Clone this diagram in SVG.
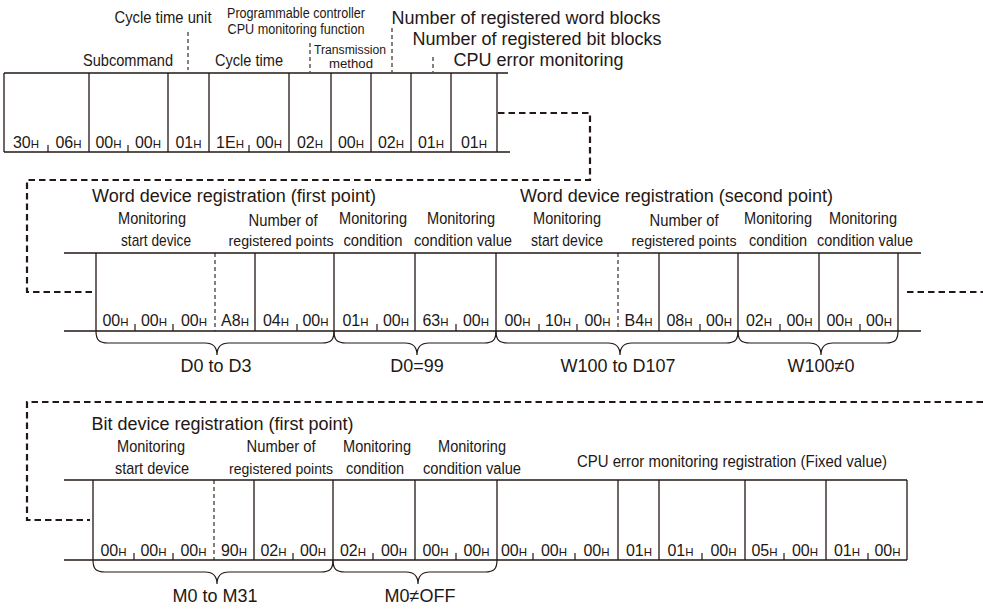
<svg xmlns="http://www.w3.org/2000/svg" width="983" height="610" viewBox="0 0 983 610">
<style>
.ln{stroke:#231815;stroke-width:1.3;fill:none}
.tk{stroke:#231815;stroke-width:1.2;fill:none}
.ds{stroke:#231815;stroke-width:1.1;stroke-dasharray:4 3;fill:none}
.conn{stroke:#231815;stroke-width:2.2;stroke-dasharray:6.5 4;fill:none}
.br{stroke:#231815;stroke-width:1.2;fill:none}
text{font-family:'Liberation Sans',Arial,sans-serif;fill:#231815;text-anchor:middle}
.v{font-size:16px}
.h{font-size:11.5px}
.lb{font-size:17px}
.lm{font-size:16px}
.rp{font-size:15.5px}
.ls{font-size:14px}
.lt{font-size:12.5px}
.ll{font-size:18px}
</style>
<rect width="983" height="610" fill="#fff"/>

<!-- Row 1 frame -->
<g id="frame1">
<path class="ln" d="M4 73H508M4 152H510M4 73V152M89 73V152M168 73V152M209 73V152M289 73V152M331 73V152M371 73V152M411 73V152M451 73V152M497 73V152"/>
<path class="tk" d="M48 145V152M128 145V152M249 145V152"/>
<path class="ds" d="M188 32V70M310 43V72M392 28V72M433 57V72"/>
</g>
<g id="r1-subcommand"><text class="v" x="26" y="148">30<tspan class="h">H</tspan></text><text class="v" x="68.5" y="148">06<tspan class="h">H</tspan></text></g>
<g id="r1-zero"><text class="v" x="108.5" y="148">00<tspan class="h">H</tspan></text><text class="v" x="148" y="148">00<tspan class="h">H</tspan></text></g>
<g id="r1-unit"><text class="v" x="188.5" y="148">01<tspan class="h">H</tspan></text></g>
<g id="r1-cycle"><text class="v" x="230" y="148">1E<tspan class="h">H</tspan></text><text class="v" x="269" y="148">00<tspan class="h">H</tspan></text></g>
<g id="r1-plc"><text class="v" x="310" y="148">02<tspan class="h">H</tspan></text></g>
<g id="r1-trans"><text class="v" x="351" y="148">00<tspan class="h">H</tspan></text></g>
<g id="r1-word"><text class="v" x="391" y="148">02<tspan class="h">H</tspan></text></g>
<g id="r1-bit"><text class="v" x="431" y="148">01<tspan class="h">H</tspan></text></g>
<g id="r1-cpu"><text class="v" x="474" y="148">01<tspan class="h">H</tspan></text></g>

<g id="labels1">
<text class="lb" x="163" y="23" textLength="97" lengthAdjust="spacingAndGlyphs">Cycle time unit</text>
<text class="ls" x="296" y="18" textLength="138" lengthAdjust="spacingAndGlyphs">Programmable controller</text>
<text class="ls" x="296" y="34" textLength="137" lengthAdjust="spacingAndGlyphs">CPU monitoring function</text>
<text class="lt" x="350" y="54" textLength="72" lengthAdjust="spacingAndGlyphs">Transmission</text>
<text class="lt" x="351" y="68" textLength="44" lengthAdjust="spacingAndGlyphs">method</text>
<text class="lb" x="128" y="66" textLength="90" lengthAdjust="spacingAndGlyphs">Subcommand</text>
<text class="lb" x="249" y="66" textLength="68" lengthAdjust="spacingAndGlyphs">Cycle time</text>
<text class="ll" x="526" y="24">Number of registered word blocks</text>
<text class="ll" x="537" y="45">Number of registered bit blocks</text>
<text class="ll" x="538.5" y="66">CPU error monitoring</text>
</g>

<!-- Row 2 frame -->
<g id="frame2">
<path class="ln" d="M64 253H921M64 331H921M96 253V331M255 253V331M334 253V331M415 253V331M496 253V331M659 253V331M738 253V331M819 253V331M898 253V331"/>
<path class="ds" d="M215 253V331M618 253V331"/>
<path class="tk" d="M135 324V331M173 324V331M297 324V331M377 324V331M456 324V331M539 324V331M577 324V331M700 324V331M780 324V331M860 324V331"/>
</g>
<g id="r2-w1-start"><text class="v" x="115.5" y="326">00<tspan class="h">H</tspan></text><text class="v" x="154" y="326">00<tspan class="h">H</tspan></text><text class="v" x="194" y="326">00<tspan class="h">H</tspan></text><text class="v" x="235" y="326">A8<tspan class="h">H</tspan></text></g>
<g id="r2-w1-points"><text class="v" x="276" y="326">04<tspan class="h">H</tspan></text><text class="v" x="315.5" y="326">00<tspan class="h">H</tspan></text></g>
<g id="r2-w1-cond"><text class="v" x="355.5" y="326">01<tspan class="h">H</tspan></text><text class="v" x="396" y="326">00<tspan class="h">H</tspan></text></g>
<g id="r2-w1-val"><text class="v" x="435.5" y="326">63<tspan class="h">H</tspan></text><text class="v" x="476" y="326">00<tspan class="h">H</tspan></text></g>
<g id="r2-w2-start"><text class="v" x="517.5" y="326">00<tspan class="h">H</tspan></text><text class="v" x="558" y="326">10<tspan class="h">H</tspan></text><text class="v" x="597.5" y="326">00<tspan class="h">H</tspan></text><text class="v" x="638.5" y="326">B4<tspan class="h">H</tspan></text></g>
<g id="r2-w2-points"><text class="v" x="679.5" y="326">08<tspan class="h">H</tspan></text><text class="v" x="719" y="326">00<tspan class="h">H</tspan></text></g>
<g id="r2-w2-cond"><text class="v" x="759" y="326">02<tspan class="h">H</tspan></text><text class="v" x="799.5" y="326">00<tspan class="h">H</tspan></text></g>
<g id="r2-w2-val"><text class="v" x="839.5" y="326">00<tspan class="h">H</tspan></text><text class="v" x="879" y="326">00<tspan class="h">H</tspan></text></g>

<g id="labels2">
<text class="ll" x="234" y="202">Word device registration (first point)</text>
<text class="ll" x="676.5" y="202">Word device registration (second point)</text>
<text class="lb" x="152" y="224" textLength="68" lengthAdjust="spacingAndGlyphs">Monitoring</text>
<text class="lb" x="156" y="246" textLength="70" lengthAdjust="spacingAndGlyphs">start device</text>
<text class="lb" x="283" y="226" textLength="69" lengthAdjust="spacingAndGlyphs">Number of</text>
<text class="rp" x="281" y="246" textLength="105" lengthAdjust="spacingAndGlyphs">registered points</text>
<text class="lb" x="373" y="224" textLength="68" lengthAdjust="spacingAndGlyphs">Monitoring</text>
<text class="lm" x="373" y="246" textLength="59" lengthAdjust="spacingAndGlyphs">condition</text>
<text class="lb" x="461" y="224" textLength="68" lengthAdjust="spacingAndGlyphs">Monitoring</text>
<text class="lm" x="463" y="246" textLength="98" lengthAdjust="spacingAndGlyphs">condition value</text>
<text class="lb" x="567" y="224" textLength="68" lengthAdjust="spacingAndGlyphs">Monitoring</text>
<text class="lb" x="567" y="246" textLength="72" lengthAdjust="spacingAndGlyphs">start device</text>
<text class="lb" x="684" y="226" textLength="69" lengthAdjust="spacingAndGlyphs">Number of</text>
<text class="rp" x="684" y="246" textLength="105" lengthAdjust="spacingAndGlyphs">registered points</text>
<text class="lb" x="778" y="224" textLength="68" lengthAdjust="spacingAndGlyphs">Monitoring</text>
<text class="lm" x="778" y="246" textLength="58" lengthAdjust="spacingAndGlyphs">condition</text>
<text class="lb" x="863" y="224" textLength="68" lengthAdjust="spacingAndGlyphs">Monitoring</text>
<text class="lm" x="865" y="246" textLength="96" lengthAdjust="spacingAndGlyphs">condition value</text>
</g>

<g id="braces2">
<path class="br" d="M96 331C96 340 99 343 108 343H205C213 343 217 347 217 355C217 347 221 343 229 343H322C331 343 334 340 334 331"/>
<path class="br" d="M334 331C334 340 337 343 346 343H405C413 343 417 347 417 355C417 347 421 343 429 343H484C493 343 496 340 496 331"/>
<path class="br" d="M496 331C496 340 499 343 508 343H608C616 343 620 347 620 355C620 347 624 343 632 343H726C735 343 738 340 738 331"/>
<path class="br" d="M738 331C738 340 741 343 750 343H809C817 343 821 347 821 355C821 347 825 343 833 343H886C895 343 898 340 898 331"/>
<text class="ll" x="216" y="372">D0 to D3</text>
<text class="ll" x="417" y="372">D0=99</text>
<text class="ll" x="618" y="372">W100 to D107</text>
<text class="ll" x="821" y="372">W100≠0</text>
</g>

<!-- Row 3 frame -->
<g id="frame3">
<path class="ln" d="M64 480H907M64 560H907M93 480V560M254 480V560M333 480V560M415 480V560M497 480V560M618 480V560M659 480V560M745 480V560M826 480V560M907 480V560"/>
<path class="ds" d="M214 480V560"/>
<path class="tk" d="M134 553V560M173 553V560M293 553V560M373 553V560M456 553V560M533 553V560M575 553V560M702 553V560M784 553V560M868 553V560"/>
</g>
<g id="r3-b1-start"><text class="v" x="113.5" y="556">00<tspan class="h">H</tspan></text><text class="v" x="153.5" y="556">00<tspan class="h">H</tspan></text><text class="v" x="193.5" y="556">00<tspan class="h">H</tspan></text><text class="v" x="234" y="556">90<tspan class="h">H</tspan></text></g>
<g id="r3-b1-points"><text class="v" x="273.5" y="556">02<tspan class="h">H</tspan></text><text class="v" x="313" y="556">00<tspan class="h">H</tspan></text></g>
<g id="r3-b1-cond"><text class="v" x="353" y="556">02<tspan class="h">H</tspan></text><text class="v" x="394" y="556">00<tspan class="h">H</tspan></text></g>
<g id="r3-b1-val"><text class="v" x="435.5" y="556">00<tspan class="h">H</tspan></text><text class="v" x="476.5" y="556">00<tspan class="h">H</tspan></text></g>
<g id="r3-cpu"><text class="v" x="514" y="556">00<tspan class="h">H</tspan></text><text class="v" x="554" y="556">00<tspan class="h">H</tspan></text><text class="v" x="596.5" y="556">00<tspan class="h">H</tspan></text><text class="v" x="639" y="556">01<tspan class="h">H</tspan></text><text class="v" x="680.5" y="556">01<tspan class="h">H</tspan></text><text class="v" x="723.5" y="556">00<tspan class="h">H</tspan></text><text class="v" x="764.5" y="556">05<tspan class="h">H</tspan></text><text class="v" x="805" y="556">00<tspan class="h">H</tspan></text><text class="v" x="847" y="556">01<tspan class="h">H</tspan></text><text class="v" x="887.5" y="556">00<tspan class="h">H</tspan></text></g>

<g id="labels3">
<text class="ll" x="222.5" y="430">Bit device registration (first point)</text>
<text class="lb" x="151" y="452" textLength="68" lengthAdjust="spacingAndGlyphs">Monitoring</text>
<text class="lb" x="152" y="474" textLength="74" lengthAdjust="spacingAndGlyphs">start device</text>
<text class="lb" x="281" y="452" textLength="69" lengthAdjust="spacingAndGlyphs">Number of</text>
<text class="rp" x="281" y="474" textLength="104" lengthAdjust="spacingAndGlyphs">registered points</text>
<text class="lb" x="377" y="452" textLength="68" lengthAdjust="spacingAndGlyphs">Monitoring</text>
<text class="lm" x="375" y="474" textLength="58" lengthAdjust="spacingAndGlyphs">condition</text>
<text class="lb" x="472" y="452" textLength="68" lengthAdjust="spacingAndGlyphs">Monitoring</text>
<text class="lm" x="472" y="474" textLength="98" lengthAdjust="spacingAndGlyphs">condition value</text>
<text class="lb" x="732" y="467" textLength="310" lengthAdjust="spacingAndGlyphs">CPU error monitoring registration (Fixed value)</text>
</g>

<g id="braces3">
<path class="br" d="M93 560C93 569 96 572 105 572H205C213 572 217 576 217 584C217 576 221 572 229 572H321C330 572 333 569 333 560"/>
<path class="br" d="M333 560C333 569 336 572 345 572H406C414 572 418 576 418 584C418 576 422 572 430 572H485C494 572 497 569 497 560"/>
<text class="ll" x="215" y="602">M0 to M31</text>
<text class="ll" x="420" y="602">M0≠OFF</text>
</g>

<g id="connectors">
<path class="conn" d="M498 113H590V180H27V292H94"/>
<path class="conn" d="M907 292H983"/>
<path class="conn" d="M983 402H27V520H90"/>
</g>
</svg>
